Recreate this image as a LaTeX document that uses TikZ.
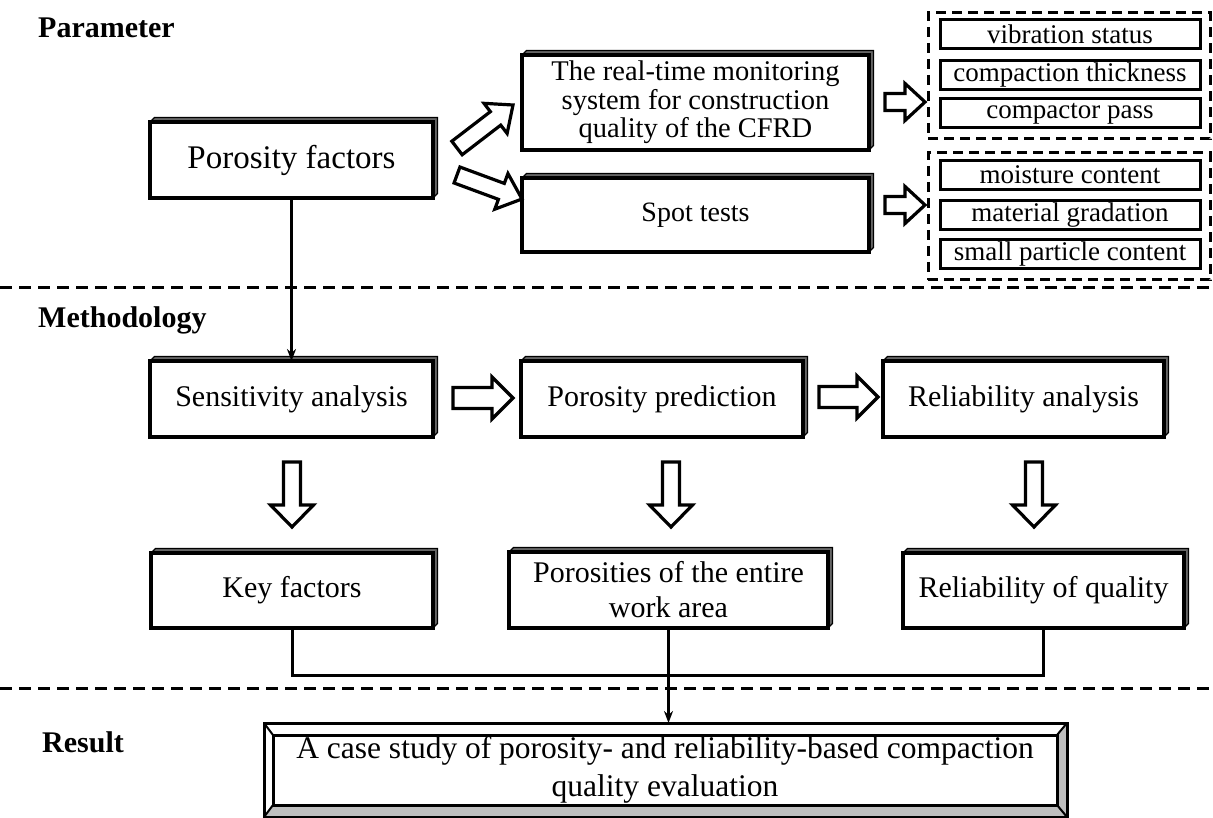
\documentclass[tikz,border=0pt]{standalone}
\usepackage{fontspec}
\setmainfont{Liberation Serif}
\usetikzlibrary{calc,backgrounds,arrows.meta}
\newcommand{\hollowarrow}[5]{%
  \coordinate (hb) at ($(#2)!#5pt!(#1)$);
  \draw[harrow] ($(#1)!#3pt!90:(#2)$) -- ($(hb)!#3pt!90:(#2)$) -- ($(hb)!#4pt!90:(#2)$) -- (#2)
    -- ($(hb)!#4pt!-90:(#2)$) -- ($(hb)!#3pt!-90:(#2)$) -- ($(#1)!#3pt!-90:(#2)$) -- cycle;
}
\tikzset{
  box/.style={draw, line width=3.4pt, fill=white, inner sep=0pt, outer sep=0pt, align=center,
    font=\fontsize{30}{35}\selectfont},
  ext/.style={fill=black!60, draw=black, line width=1.2pt, line join=miter},
  small/.style={draw, line width=3pt, fill=white, minimum width=260pt, minimum height=29pt,
    inner sep=0pt, outer sep=0pt, font=\fontsize{27}{30}\selectfont},
  grp/.style={draw, line width=3pt, dash pattern=on 10pt off 6pt, inner sep=0pt, outer sep=0pt},
  sep/.style={line width=3pt, dash pattern=on 12pt off 7pt},
  harrow/.style={draw, line width=3.2pt, fill=white, line join=miter},
  conn/.style={line width=3pt},
  head/.style={font=\bfseries\fontsize{30}{30}\selectfont, anchor=base west, inner sep=0pt}
}
\begin{document}
\begin{tikzpicture}[x=1pt,y=-1pt]
\useasboundingbox (0,0) rectangle (1213,818);

% headings
\node[head] (hpar) at (38,38) {Parameter};
\node[head] (hmet) at (38,327) {Methodology};
\node[head] (hres) at (42,752) {Result};

% separators
\draw[sep] (0,288) -- (1213,288);
\draw[sep] (0,688) -- (1213,688);

% main boxes
\node[box, minimum width=283pt, minimum height=76pt, font=\fontsize{33}{38}\selectfont] (pf) at (291.5,160) {Porosity factors};
\node[box, minimum width=347pt, minimum height=95pt, font=\fontsize{28.5}{28.5}\selectfont] (rt) at (695.5,102.5) {The real-time monitoring\\system for construction\\quality of the CFRD};
\node[box, minimum width=347pt, minimum height=74pt, font=\fontsize{28}{30}\selectfont] (st) at (695.5,215) {Spot tests};

\node[box, minimum width=283pt, minimum height=76pt] (sa) at (291.5,399) {Sensitivity analysis};
\node[box, minimum width=282pt, minimum height=76pt] (pp) at (662,399) {Porosity prediction};
\node[box, minimum width=281pt, minimum height=76pt] (ra) at (1023.5,399) {Reliability analysis};

\node[box, minimum width=282pt, minimum height=75pt] (kf) at (292,590.5) {Key factors};
\node[box, minimum width=319pt, minimum height=76pt] (pw) at (668.5,590) {Porosities of the entire\\work area};
\node[box, minimum width=281pt, minimum height=75pt] (rq) at (1043.5,590.5) {Reliability of quality};

% 3D extrusions
\begin{scope}[on background layer]
\foreach \n in {pf,rt,st,sa,pp,ra,kf,pw,rq}{
  \filldraw[ext] (\n.north west) -- ++(4.5,-4.5) -| ($(\n.south east)+(4.5,-4.5)$) -- (\n.south east) -- cycle;
}
\end{scope}

% parameter groups
\node[grp, minimum width=282pt, minimum height=126pt] (g1) at (1069,76) {};
\node[grp, minimum width=282pt, minimum height=127pt] (g2) at (1069,216.5) {};
\node[small] (v1) at (1070,34.5) {vibration status};
\node[small] (v2) at (1070,75) {compaction thickness};
\node[small] (v3) at (1070,113.5) {compactor pass};
\node[small] (w1) at (1070,175) {moisture content};
\node[small] (w2) at (1070,215) {material gradation};
\node[small] (w3) at (1070,254.5) {small particle content};

% result box with bevel
\node[inner sep=0pt, outer sep=0pt, minimum width=784pt, minimum height=70pt, align=center,
  font=\fontsize{31.5}{38}\selectfont] (res) at (665,770) {A case study of porosity- and reliability-based compaction\\quality evaluation};
\coordinate (onw) at ($(res.north west)+(-9,-12)$);
\coordinate (one) at ($(res.north east)+(10,-12)$);
\coordinate (ose) at ($(res.south east)+(10,12)$);
\coordinate (osw) at ($(res.south west)+(-9,12)$);
\begin{scope}[on background layer]
\fill[white] (onw) rectangle (ose);
\fill[black!25] (one) -- (res.north east) -- (res.south east) -- (ose) -- cycle;
\fill[black!25] (osw) -- (res.south west) -- (res.south east) -- (ose) -- cycle;
\end{scope}
\draw[line width=3pt, line join=miter] (onw) rectangle (ose);
\draw[line width=3pt, line join=miter] (res.north west) rectangle (res.south east);
\draw[line width=2pt] (onw) -- (res.north west) (one) -- (res.north east) (ose) -- (res.south east) (osw) -- (res.south west);

% hollow arrows
\coordinate (d1t) at (457,148); \coordinate (d1h) at (513,105);
\coordinate (d2t) at (457,175); \coordinate (d2h) at (522,199);
\hollowarrow{d1t}{d1h}{8.5}{19}{22}
\hollowarrow{d2t}{d2h}{8.5}{19}{22}
\coordinate (r1t) at (885,102); \coordinate (r1h) at (925,102);
\coordinate (r2t) at (885,205); \coordinate (r2h) at (925,205);
\hollowarrow{r1t}{r1h}{8.5}{18.5}{20}
\hollowarrow{r2t}{r2h}{8.5}{18.5}{20}
\coordinate (h1t) at (453,398); \coordinate (h1h) at (513,398);
\coordinate (h2t) at (819,397); \coordinate (h2h) at (878,397);
\hollowarrow{h1t}{h1h}{10.5}{21}{21}
\hollowarrow{h2t}{h2h}{10.5}{21}{21}
\coordinate (v1t) at (292,462); \coordinate (v1h) at (292,527);
\coordinate (v2t) at (671,462); \coordinate (v2h) at (671,527);
\coordinate (v3t) at (1034,462); \coordinate (v3h) at (1034,527);
\hollowarrow{v1t}{v1h}{8.5}{21.5}{22}
\hollowarrow{v2t}{v2h}{8.5}{21.5}{22}
\hollowarrow{v3t}{v3h}{8.5}{21.5}{22}

% connectors
\draw[conn,-{Stealth[length=12pt,width=9pt]}] (pf.south) -- (sa.north);
\draw[conn] (kf.south) -- ++(0,47) -| (rq.south);
\draw[conn,-{Stealth[length=12pt,width=9pt]}] (pw.south) -- (pw.south |- onw);
\end{tikzpicture}
\end{document}
